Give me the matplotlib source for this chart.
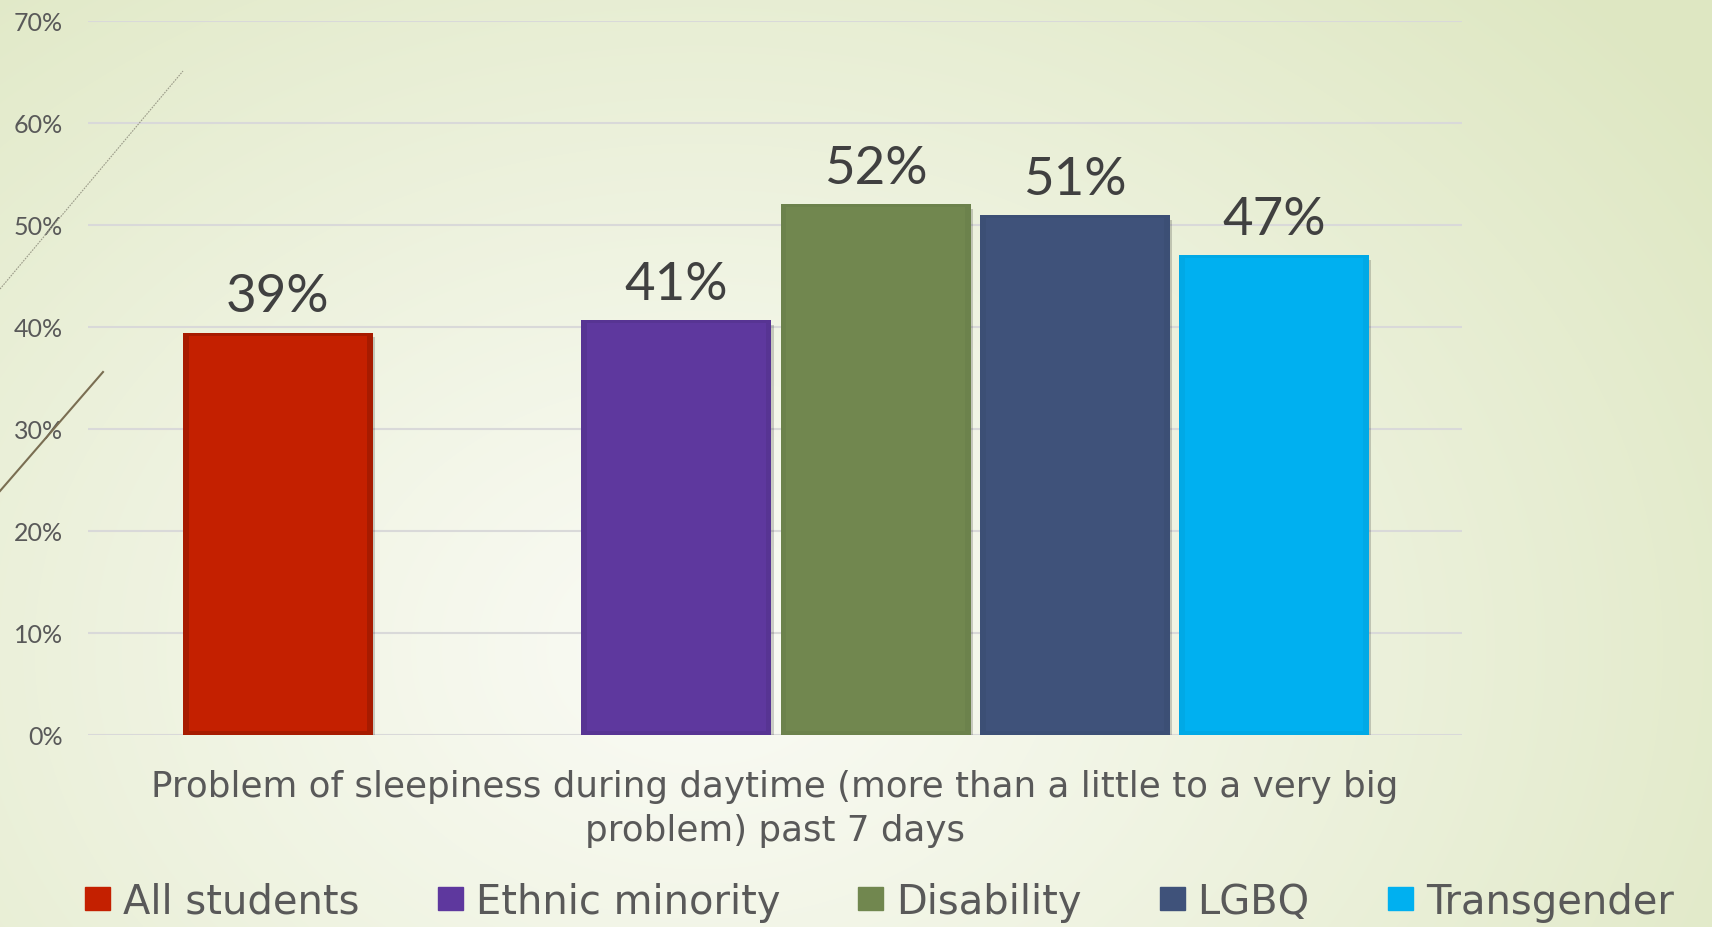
import numpy as np
import matplotlib
matplotlib.use("Agg")
import matplotlib.pyplot as plt
from matplotlib.patches import Rectangle
from matplotlib.lines import Line2D

# ---- data ----
series = ["All students", "Ethnic minority", "Disability", "LGBQ", "Transgender"]
values = [39.4, 40.6, 52.0, 50.9, 47.0]
slots = [0, 2, 3, 4, 5]          # slot 1 is an empty spacer series
colors = ["#C42000", "#5E389E", "#71874F", "#3F527A", "#00B0F0"]
bevel = [0.85, 0.93, 0.96, 0.96, 0.96]
yticks = [0, 10, 20, 30, 40, 50, 60, 70]
xlabel = "Problem of sleepiness during daytime (more than a little to a very big\nproblem) past 7 days"

W, H = 1712, 928
DPI = 100
FONT = "Lato"
WIDE = "DejaVu Sans"
plt.rcParams["font.family"] = [FONT, "DejaVu Sans"]

fig = plt.figure(figsize=(W / DPI, H / DPI), dpi=DPI)

# ---- background gradient ----
bg = fig.add_axes([0, 0, 1, 1], zorder=-10)
yy, xx = np.mgrid[0:H, 0:W]
d = np.sqrt(((xx - 700) / 1250.0) ** 2 + ((yy - 650) / 950.0) ** 2)
d = np.clip(d, 0, 1) ** 1.1
c0 = np.array([250, 251, 245]) / 255.0
c1 = np.array([222, 231, 194]) / 255.0
img = c0[None, None, :] * (1 - d[..., None]) + c1[None, None, :] * d[..., None]
bg.imshow(img, extent=[0, W, H, 0], aspect="auto")
bg.set_xlim(0, W)
bg.set_ylim(H, 0)
bg.axis("off")

# decorative theme lines
fig.add_artist(Line2D([0 / W, 183 / W], [1 - 290 / H, 1 - 72 / H], transform=fig.transFigure,
                      color="#9a9a88", lw=0.8, ls=(0, (1.5, 1))))
fig.add_artist(Line2D([0 / W, 103 / W], [1 - 492 / H, 1 - 373 / H], transform=fig.transFigure,
                      color="#7a6e52", lw=1.5))

# ---- main axes ----
left, right = 88, 1462
y0, y70 = 735.5, 21.5
ax = fig.add_axes([left / W, 1 - y0 / H, (right - left) / W, (y0 - y70) / H])
ax.patch.set_alpha(0)

step = 199.2
c_first = 278
ax.set_xlim((left - c_first) / step, (right - c_first) / step)
ax.set_ylim(0, 70)
bw = 190 / step

ax.set_yticks(yticks)
ax.set_yticklabels([f"{t}%" for t in yticks])
ax.tick_params(axis="y", length=0, pad=18, labelsize=18, labelcolor="#595959")
ax.tick_params(axis="x", length=0, labelbottom=False)
ax.set_xticks([])
for s in ax.spines.values():
    s.set_visible(False)
ax.grid(axis="y", color="#d9d9d9", lw=1.5, zorder=0)
ax.set_axisbelow(True)

handles = []
for name, v, s, c, bv in zip(series, values, slots, colors, bevel):
    rgb = np.array(matplotlib.colors.to_rgb(c))
    # shadow
    ax.bar(s + 0.012, v, width=bw, bottom=-0.45, color="#000000", alpha=0.18, zorder=2)
    ax.bar(s, v, width=bw, color=rgb * bv, lw=0, zorder=3, label=name)
    # inner face (bevel look)
    ax.bar(s, v - 0.6, bottom=0.3, width=bw * 0.94, color=c, lw=0, zorder=4)
    handles.append(Rectangle((0, 0), 1, 1, color=c))
    ax.annotate(f"{v:.0f}%", (s, v), xytext=(0, 9), textcoords="offset points",
                ha="center", va="bottom", fontsize=38, color="#404040", zorder=5)

# x label (category)
fig.text(775 / W, 1 - 809 / H, xlabel, ha="center", va="center", multialignment="center",
         fontsize=25.7, color="#595959", linespacing=1.4, family=[WIDE])

# legend
fs = 28.8
fpx = fs * DPI / 72
leg = fig.legend(handles, series, loc="center left", bbox_to_anchor=(85 / W, 1 - 903 / H),
                 bbox_transform=fig.transFigure, ncol=5, frameon=False,
                 prop={"family": [WIDE], "size": fs},
                 handlelength=25 / fpx, handleheight=0.5, handletextpad=13 / fpx,
                 columnspacing=78 / fpx, borderpad=0, borderaxespad=0)
for t in leg.get_texts():
    t.set_color("#595959")

fig.savefig("out.png", dpi=DPI)
